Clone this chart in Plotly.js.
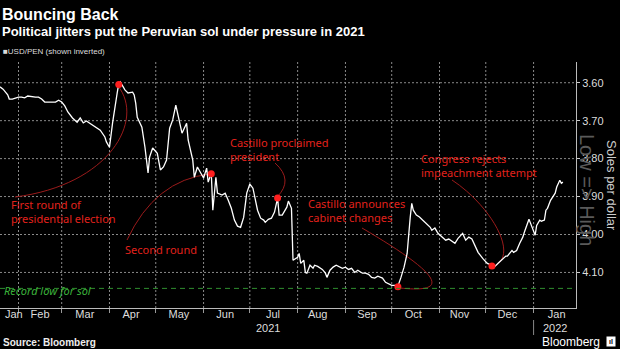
<!DOCTYPE html>
<html>
<head>
<meta charset="utf-8">
<script src="https://cdn.plot.ly/plotly-3.0.1.min.js"></script>
<style>html,body{margin:0;padding:0;background:#000;}#chart{width:620px;height:349px;}</style>
</head>
<body>
<div id="chart"></div>
<script>
// ---- data ----
const dates = ['2021-01-20','2021-01-22','2021-01-25','2021-01-26','2021-01-28',
'2021-02-01','2021-02-03','2021-02-05','2021-02-07','2021-02-10','2021-02-12','2021-02-14','2021-02-16','2021-02-18','2021-02-21','2021-02-25','2021-02-27',
'2021-03-01','2021-03-03','2021-03-05','2021-03-08','2021-03-11','2021-03-13','2021-03-15','2021-03-17','2021-03-20','2021-03-23','2021-03-26','2021-03-29','2021-03-30',
'2021-04-01','2021-04-03','2021-04-06','2021-04-07','2021-04-08','2021-04-10','2021-04-11','2021-04-13','2021-04-16','2021-04-17','2021-04-18','2021-04-19','2021-04-22','2021-04-24','2021-04-26','2021-04-27','2021-04-29',
'2021-05-02','2021-05-04','2021-05-06','2021-05-08','2021-05-10','2021-05-12','2021-05-14','2021-05-15','2021-05-18','2021-05-21','2021-05-22','2021-05-25','2021-05-26','2021-05-28','2021-05-30',
'2021-06-01','2021-06-03','2021-06-04','2021-06-06','2021-06-07','2021-06-09','2021-06-10','2021-06-13','2021-06-15','2021-06-17','2021-06-19','2021-06-21','2021-06-23','2021-06-25','2021-06-27','2021-06-29',
'2021-07-01','2021-07-03','2021-07-06','2021-07-08','2021-07-10','2021-07-11','2021-07-13','2021-07-15','2021-07-17','2021-07-19','2021-07-20','2021-07-22','2021-07-25','2021-07-26','2021-07-28','2021-07-29',
'2021-08-01','2021-08-02','2021-08-03','2021-08-05','2021-08-06','2021-08-07','2021-08-09','2021-08-11','2021-08-12','2021-08-14','2021-08-17','2021-08-19','2021-08-20','2021-08-22','2021-08-24','2021-08-26','2021-08-28','2021-08-30',
'2021-09-01','2021-09-03','2021-09-05','2021-09-07','2021-09-09','2021-09-12','2021-09-14','2021-09-16','2021-09-18','2021-09-20','2021-09-22','2021-09-25','2021-09-27','2021-09-29',
'2021-10-01','2021-10-03','2021-10-05','2021-10-07','2021-10-09','2021-10-11','2021-10-12','2021-10-13','2021-10-14','2021-10-15','2021-10-17','2021-10-19','2021-10-21','2021-10-24','2021-10-26','2021-10-27','2021-10-29','2021-10-31',
'2021-11-03','2021-11-05','2021-11-07','2021-11-09','2021-11-11','2021-11-13','2021-11-15','2021-11-16','2021-11-18','2021-11-20','2021-11-22','2021-11-24','2021-11-26','2021-11-29',
'2021-12-01','2021-12-02','2021-12-05','2021-12-07','2021-12-09','2021-12-12','2021-12-14','2021-12-15','2021-12-18','2021-12-19','2021-12-21','2021-12-23','2021-12-25','2021-12-26','2021-12-28','2021-12-29','2021-12-30',
'2022-01-01','2022-01-02','2022-01-03','2022-01-05','2022-01-06','2022-01-08','2022-01-09','2022-01-10','2022-01-12','2022-01-14','2022-01-15','2022-01-16','2022-01-18','2022-01-19','2022-01-20'];

const usdpen = [3.611,3.617,3.632,3.643,3.643,
3.638,3.638,3.640,3.635,3.638,3.638,3.638,3.643,3.651,3.651,3.651,3.646,
3.651,3.661,3.677,3.693,3.704,3.693,3.706,3.701,3.709,3.717,3.725,3.743,3.756,
3.770,3.706,3.627,3.603,3.598,3.614,3.619,3.627,3.625,3.632,3.654,3.691,3.717,3.770,3.838,3.796,3.772,
3.786,3.830,3.822,3.804,3.720,3.698,3.659,3.680,3.733,3.707,3.751,3.804,3.849,3.822,3.838,
3.851,3.825,3.862,3.838,3.936,3.849,3.891,3.896,3.891,3.910,3.931,3.962,3.978,3.981,3.955,3.891,
3.867,3.878,3.936,3.957,3.962,3.968,3.960,3.957,3.941,3.904,3.949,3.949,3.928,3.912,3.931,4.068,
4.060,4.050,4.076,4.068,4.100,4.102,4.081,4.089,4.081,4.084,4.092,4.102,4.113,4.094,4.086,4.081,4.084,4.089,
4.086,4.092,4.089,4.100,4.094,4.102,4.102,4.105,4.113,4.115,4.110,4.115,4.126,4.129,
4.134,4.134,4.136,4.113,4.086,4.050,3.997,3.955,3.918,3.936,3.949,3.954,3.962,3.975,3.981,3.989,3.983,3.997,
4.007,4.015,4.012,4.018,4.023,4.010,4.002,3.997,4.015,4.007,4.012,4.028,4.047,4.063,
4.073,4.076,4.081,4.084,4.076,4.063,4.057,4.057,4.042,4.047,4.042,4.023,4.007,3.994,3.968,3.960,3.970,
3.989,4.002,3.976,3.962,3.965,3.962,3.936,3.931,3.910,3.896,3.891,3.875,3.857,3.865,3.862];

const eventDates  = ['2021-04-07','2021-06-06','2021-07-19','2021-10-05','2021-12-05'];
const eventValues = [3.605, 3.840, 3.904, 4.138, 4.083];
const eventLabels = ['First round of<br>presidential election','Second round','Castillo proclaimed<br>president','Castillo announces<br>cabinet changes','Congress rejects<br>impeachment attempt'];

const RECORD_LOW = 4.142;
const recordLabel = 'Record low for sol';

const monthLabelDates = ['2021-01-29','2021-02-15','2021-03-16','2021-04-15','2021-05-16','2021-06-15','2021-07-16','2021-08-14','2021-09-15','2021-10-15','2021-11-14','2021-12-15','2022-01-16'];
const monthLabels = ['Jan','Feb','Mar','Apr','May','Jun','Jul','Aug','Sep','Oct','Nov','Dec','Jan'];
const monthStarts = ['2021-02-01','2021-03-01','2021-04-01','2021-05-01','2021-06-01','2021-07-01','2021-08-01','2021-09-01','2021-10-01','2021-11-01','2021-12-01','2022-01-01'];
const yearLabels = ['2021','2022'];
const yearLabelDates = ['2021-07-13','2022-01-15'];
const yTicks = [3.6,3.7,3.8,3.9,4.0,4.1];

// ---- layout helpers (pixel -> paper) ----
const W = 576, T = 62, H = 246;
const px = x => x / W;
const py = y => (T + H - y) / H;
const FONT = 'Liberation Sans, Arial, sans-serif';
const LABEL_FONT = 'Noto Sans, Liberation Sans, Arial, sans-serif';
const RED = '#e3221c', CURVE = '#9b1b1b';
const GRID = '#8a8a8a';

function cubic(p0, p1, p2, p3) {
  return `M ${px(p0[0])},${py(p0[1])} C ${px(p1[0])},${py(p1[1])} ${px(p2[0])},${py(p2[1])} ${px(p3[0])},${py(p3[1])}`;
}
function quad(p0, p1, p2) {
  return `M ${px(p0[0])},${py(p0[1])} Q ${px(p1[0])},${py(p1[1])} ${px(p2[0])},${py(p2[1])}`;
}
const curvePaths = [
  cubic([15,197],[110,185],[145,120],[118,86]),
  quad([127,240],[155,180],[210,174]),
  quad([275,163],[294,180],[277,197]),
  cubic([362,228],[420,262],[465,295],[400,288]),
  cubic([452,180],[490,205],[520,255],[494,266])
];
const labelPos = [[10,211],[124,249],[229,149],[307,210],[420,165]];

const traces = [
  {x: dates, y: usdpen, type: 'scatter', mode: 'lines', line: {color: '#ffffff', width: 1.3}, hoverinfo: 'skip'},
  {x: eventDates, y: eventValues, type: 'scatter', mode: 'markers', marker: {color: '#ff1f1f', size: 7}, hoverinfo: 'skip'}
];

// dotted gridlines at the axis ticks / month boundaries
const shapes = [];
yTicks.forEach(v => shapes.push({type: 'line', layer: 'below', xref: 'paper', x0: 0, x1: 1, yref: 'y', y0: v, y1: v, line: {color: GRID, width: 1, dash: '2px,2px'}}));
monthStarts.forEach(d => shapes.push({type: 'line', layer: 'below', xref: 'x', x0: d, x1: d, yref: 'paper', y0: 0, y1: 1, line: {color: GRID, width: 1, dash: '2px,2px'}}));
shapes.push(
  {type: 'line', xref: 'paper', x0: 0, x1: 1, yref: 'y', y0: RECORD_LOW, y1: RECORD_LOW, line: {color: '#2f8f2f', width: 1, dash: '5px,4px'}},
  {type: 'line', xref: 'x', x0: monthStarts[11], x1: monthStarts[11], yref: 'paper', y0: py(320), y1: py(335), line: {color: '#888', width: 1}}
);
curvePaths.forEach(p => shapes.push({type: 'path', xref: 'paper', yref: 'paper', path: p, line: {color: CURVE, width: 1}, layer: 'below'}));

const annotations = [
  {text: '<b>Bouncing Back</b>', x: px(1), y: py(14), font: {size: 16, color: '#fff'}},
  {text: '<b>Political jitters put the Peruvian sol under pressure in 2021</b>', x: px(1), y: py(31), font: {size: 13, color: '#fff'}},
  {text: '■USD/PEN (shown inverted)', x: px(2), y: py(52), font: {size: 8, color: '#ddd'}},
  {text: '<b>Source: Bloomberg</b>', x: px(2), y: py(342), font: {size: 10, color: '#eee'}},
  {text: 'Bloomberg', x: px(541), y: py(342), font: {size: 12, color: '#fff'}},
  {text: '<b>ıl</b>', x: px(606), y: py(341), font: {size: 7, color: '#000'}, bgcolor: '#fff', width: 8, height: 9, borderpad: 0},
  {text: 'Soles per dollar', x: px(612), y: py(185), xanchor: 'center', textangle: 90, font: {size: 13, color: '#ccc'}},
  {text: 'Low => High', x: px(587), y: py(190), xanchor: 'center', textangle: 90, font: {size: 20, color: '#5a5a5a'}},
  {text: '<i>' + recordLabel + '</i>', x: px(3), y: py(290), font: {family: LABEL_FONT, size: 11, color: '#3bb33b'}}
];
eventLabels.forEach((t, i) => annotations.push({text: t, x: px(labelPos[i][0]), y: py(labelPos[i][1]), align: 'left', font: {family: LABEL_FONT, size: 11, color: RED}}));
yearLabels.forEach((t, i) => annotations.push({text: t, xref: 'x', x: yearLabelDates[i], y: py(328), xanchor: 'center', font: {size: 11, color: '#ddd'}}));
annotations.forEach(a => {
  if (!a.xref) a.xref = 'paper';
  a.yref = 'paper';
  if (!a.xanchor) a.xanchor = 'left';
  a.yanchor = 'middle';
  a.showarrow = false;
  if (a.borderpad === undefined) a.borderpad = 0;
});

const layout = {
  width: 620, height: 349,
  margin: {l: 0, r: 44, t: T, b: 349 - T - H},
  paper_bgcolor: '#000', plot_bgcolor: '#000',
  font: {family: FONT, color: '#ddd', size: 11},
  showlegend: false,
  xaxis: {
    type: 'date', range: ['2021-01-20', '2022-01-28 12:00'],
    tickmode: 'array', tickvals: monthLabelDates, ticktext: monthLabels, tickangle: 0,
    ticks: '', showgrid: false, zeroline: false, ticklabelstandoff: -4,
    showline: true, linecolor: '#bbb', linewidth: 1,
    tickfont: {size: 11, color: '#ddd'},
    minor: {tickmode: 'array', tickvals: monthStarts, ticks: 'outside', ticklen: 4, tickcolor: '#999', showgrid: false}
  },
  yaxis: {
    side: 'right', range: [4.1937, 3.5454],
    tickmode: 'array', tickvals: yTicks, tickformat: '.2f',
    ticks: 'outside', ticklen: 3, tickcolor: '#ccc',
    showline: true, linecolor: '#bbb', linewidth: 1,
    showgrid: false, zeroline: false,
    tickfont: {size: 11, color: '#ddd'}
  },
  shapes: shapes,
  annotations: annotations
};

Plotly.newPlot('chart', traces, layout, {staticPlot: true, displayModeBar: false});
</script>
</body>
</html>
